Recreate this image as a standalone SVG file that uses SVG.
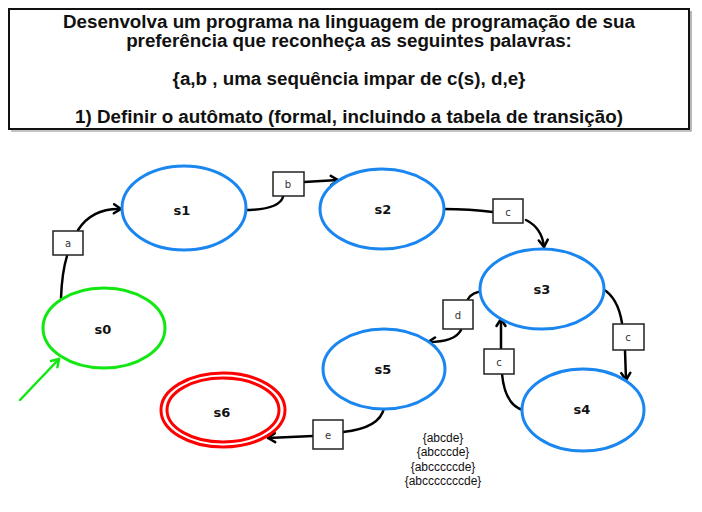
<svg xmlns="http://www.w3.org/2000/svg" width="702" height="512" viewBox="0 0 702 512">
<defs>
<marker id="arr" markerWidth="12" markerHeight="12" refX="9" refY="6" orient="auto" markerUnits="userSpaceOnUse">
<path d="M2,1.5 L9,6 L2,10.5" fill="none" stroke="#000" stroke-width="2.5" stroke-linecap="round" stroke-linejoin="round"/>
</marker>
<marker id="arrg" markerWidth="12" markerHeight="12" refX="9" refY="6" orient="auto" markerUnits="userSpaceOnUse">
<path d="M2,1.5 L9,6 L2,10.5" fill="none" stroke="#11e811" stroke-width="2.5" stroke-linecap="round" stroke-linejoin="round"/>
</marker>
</defs>
<style>
.title{font-family:"Liberation Sans",Arial,sans-serif;font-weight:bold;font-size:18.8px;fill:#111;text-anchor:middle}
.st{fill:#fff;stroke-width:3}
.blue{stroke:#1a86f0}
.nl{font-family:"DejaVu Sans","Liberation Sans",sans-serif;font-weight:bold;font-size:13px;fill:#111;text-anchor:middle}
.lb rect{fill:#fff;stroke:#222;stroke-width:1.5}
.lb text{font-family:"DejaVu Sans","Liberation Sans",sans-serif;font-size:10px;fill:#333;text-anchor:middle}
.c{fill:none;stroke:#000;stroke-width:2.5;stroke-linecap:round}
.words{font-family:"Liberation Sans",Arial,sans-serif;font-size:12px;fill:#111;text-anchor:middle}
</style>
<rect width="702" height="512" fill="#fff"/>
<g id="title">
<rect x="9" y="9" width="680" height="120" fill="#fff" stroke="#111" stroke-width="2"/>
<path d="M691,11 L691,131 L11,131" fill="none" stroke="#888" stroke-width="1.2"/>
<text class="title" x="349" y="28">Desenvolva um programa na linguagem de programação de sua</text>
<text class="title" x="349" y="47">preferência que reconheça as seguintes palavras:</text>
<text class="title" x="349" y="85">{a,b , uma sequência impar de c(s), d,e}</text>
<text class="title" x="349" y="123">1) Definir o autômato (formal, incluindo a tabela de transição)</text>
</g>
<g id="connectors">
<path class="c" d="M61,298 Q62,272 67,256"/>
<path class="c" d="M78,230 Q92,208 121,209" marker-end="url(#arr)"/>
<path class="c" d="M243,210 Q279,210 283,197"/>
<path class="c" d="M304,182 L338,180" marker-end="url(#arr)"/>
<path class="c" d="M443,209 Q470,209 493,212"/>
<path class="c" d="M526,220 Q542,228 544,247" marker-end="url(#arr)"/>
<path class="c" d="M484,291 Q472,292 468,299"/>
<path class="c" d="M461,330 Q455,342 428,342" marker-end="url(#arr)"/>
<path class="c" d="M603,289 Q618,298 622,323"/>
<path class="c" d="M625,350 L626,380" marker-end="url(#arr)"/>
<path class="c" d="M523,410 Q505,405 502,374"/>
<path class="c" d="M501,348 L501,319" marker-end="url(#arr)"/>
<path class="c" d="M384,408 Q380,428 343,432"/>
<path class="c" d="M313,436 L268,438" marker-end="url(#arr)"/>
<path d="M20,400 L59,359" fill="none" stroke="#11e811" stroke-width="2.5" stroke-linecap="round" marker-end="url(#arrg)"/>
</g>
<g id="lab-a" class="lb"><rect x="53" y="231" width="30" height="24"/><text x="68" y="247">a</text></g>
<g id="lab-b" class="lb"><rect x="273" y="172" width="31" height="24"/><text x="288" y="188">b</text></g>
<g id="lab-c1" class="lb"><rect x="493" y="199" width="30" height="24"/><text x="508" y="216">c</text></g>
<g id="lab-d" class="lb"><rect x="443" y="300" width="30" height="29"/><text x="458" y="319">d</text></g>
<g id="lab-c2" class="lb"><rect x="613" y="324" width="31" height="26"/><text x="628" y="341">c</text></g>
<g id="lab-c3" class="lb"><rect x="484" y="349" width="30" height="25"/><text x="499" y="366">c</text></g>
<g id="lab-e" class="lb"><rect x="313" y="420" width="30" height="29"/><text x="328" y="439">e</text></g>
<g id="s0"><ellipse class="st" cx="104" cy="328" rx="61" ry="40" stroke="#11e811"/><text class="nl" x="103" y="334">s0</text></g>
<g id="s1"><ellipse class="st blue" cx="184" cy="208" rx="62" ry="42"/><text class="nl" x="182" y="215">s1</text></g>
<g id="s2"><ellipse class="st blue" cx="382" cy="209" rx="62" ry="40"/><text class="nl" x="383" y="214">s2</text></g>
<g id="s3"><ellipse class="st blue" cx="542" cy="289" rx="62" ry="40"/><text class="nl" x="542" y="294">s3</text></g>
<g id="s4"><ellipse class="st blue" cx="583" cy="410" rx="61" ry="41"/><text class="nl" x="582" y="414">s4</text></g>
<g id="s5"><ellipse class="st blue" cx="384" cy="369" rx="61" ry="40"/><text class="nl" x="383" y="374">s5</text></g>
<g id="s6"><ellipse class="st" cx="223" cy="410" rx="62" ry="37" stroke="#ff0000"/><ellipse cx="223" cy="410" rx="56" ry="32" fill="none" stroke="#ff0000" stroke-width="3"/><text class="nl" x="222" y="417">s6</text></g>
<g id="words">
<text class="words" x="443" y="442">{abcde}</text>
<text class="words" x="443" y="456">{abcccde}</text>
<text class="words" x="443" y="471">{abcccccde}</text>
<text class="words" x="443" y="485">{abcccccccde}</text>
</g>
</svg>
